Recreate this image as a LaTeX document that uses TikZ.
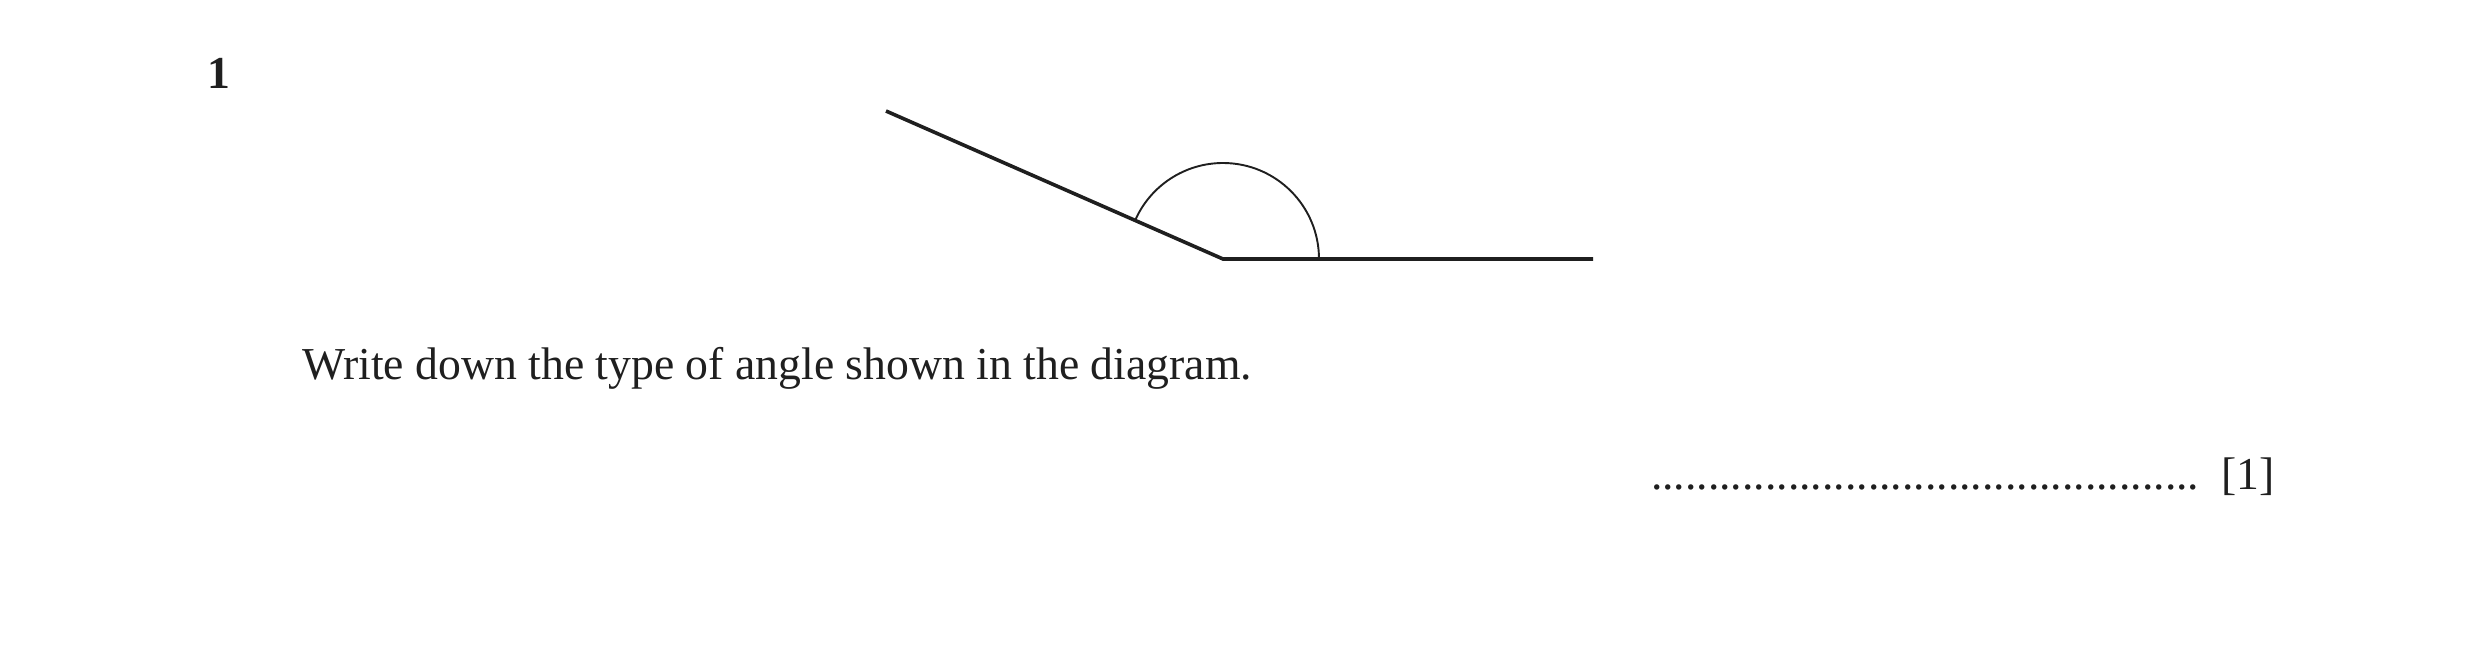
\documentclass[tikz,border=0pt]{standalone}
\usepackage{fontspec}
\setmainfont{Liberation Serif}
\begin{document}
\begin{tikzpicture}[x=0.2626pt,y=0.2626pt,
  armline/.style={line width=0.95pt,draw=black!88},
  arcline/.style={line width=0.5pt,draw=black!88},
  txt/.style={inner sep=0pt,outer sep=0pt,anchor=base west,font=\fontsize{12}{14}\selectfont,text=black!88}]
\useasboundingbox (0,0) rectangle (2481,646);
\node[txt,font=\fontsize{12}{14}\selectfont\bfseries] (num) at (207,558) {1};
\coordinate (A) at (886,535);
\coordinate (V) at (1223,387);
\coordinate (B) at (1593,387);
\draw[armline] (A) -- (V) -- (B);
\draw[arcline] ([shift={(0:25.21pt)}]V) arc[start angle=0,end angle=156.3,radius=25.21pt];
\node[txt] (q) at (302,267) {Write down the type of angle shown in the diagram.};
\node[txt] (dots) at (1651,157) {................................................};
\node[txt] (mark) at (2221,157) {[1]};
\end{tikzpicture}
\end{document}
